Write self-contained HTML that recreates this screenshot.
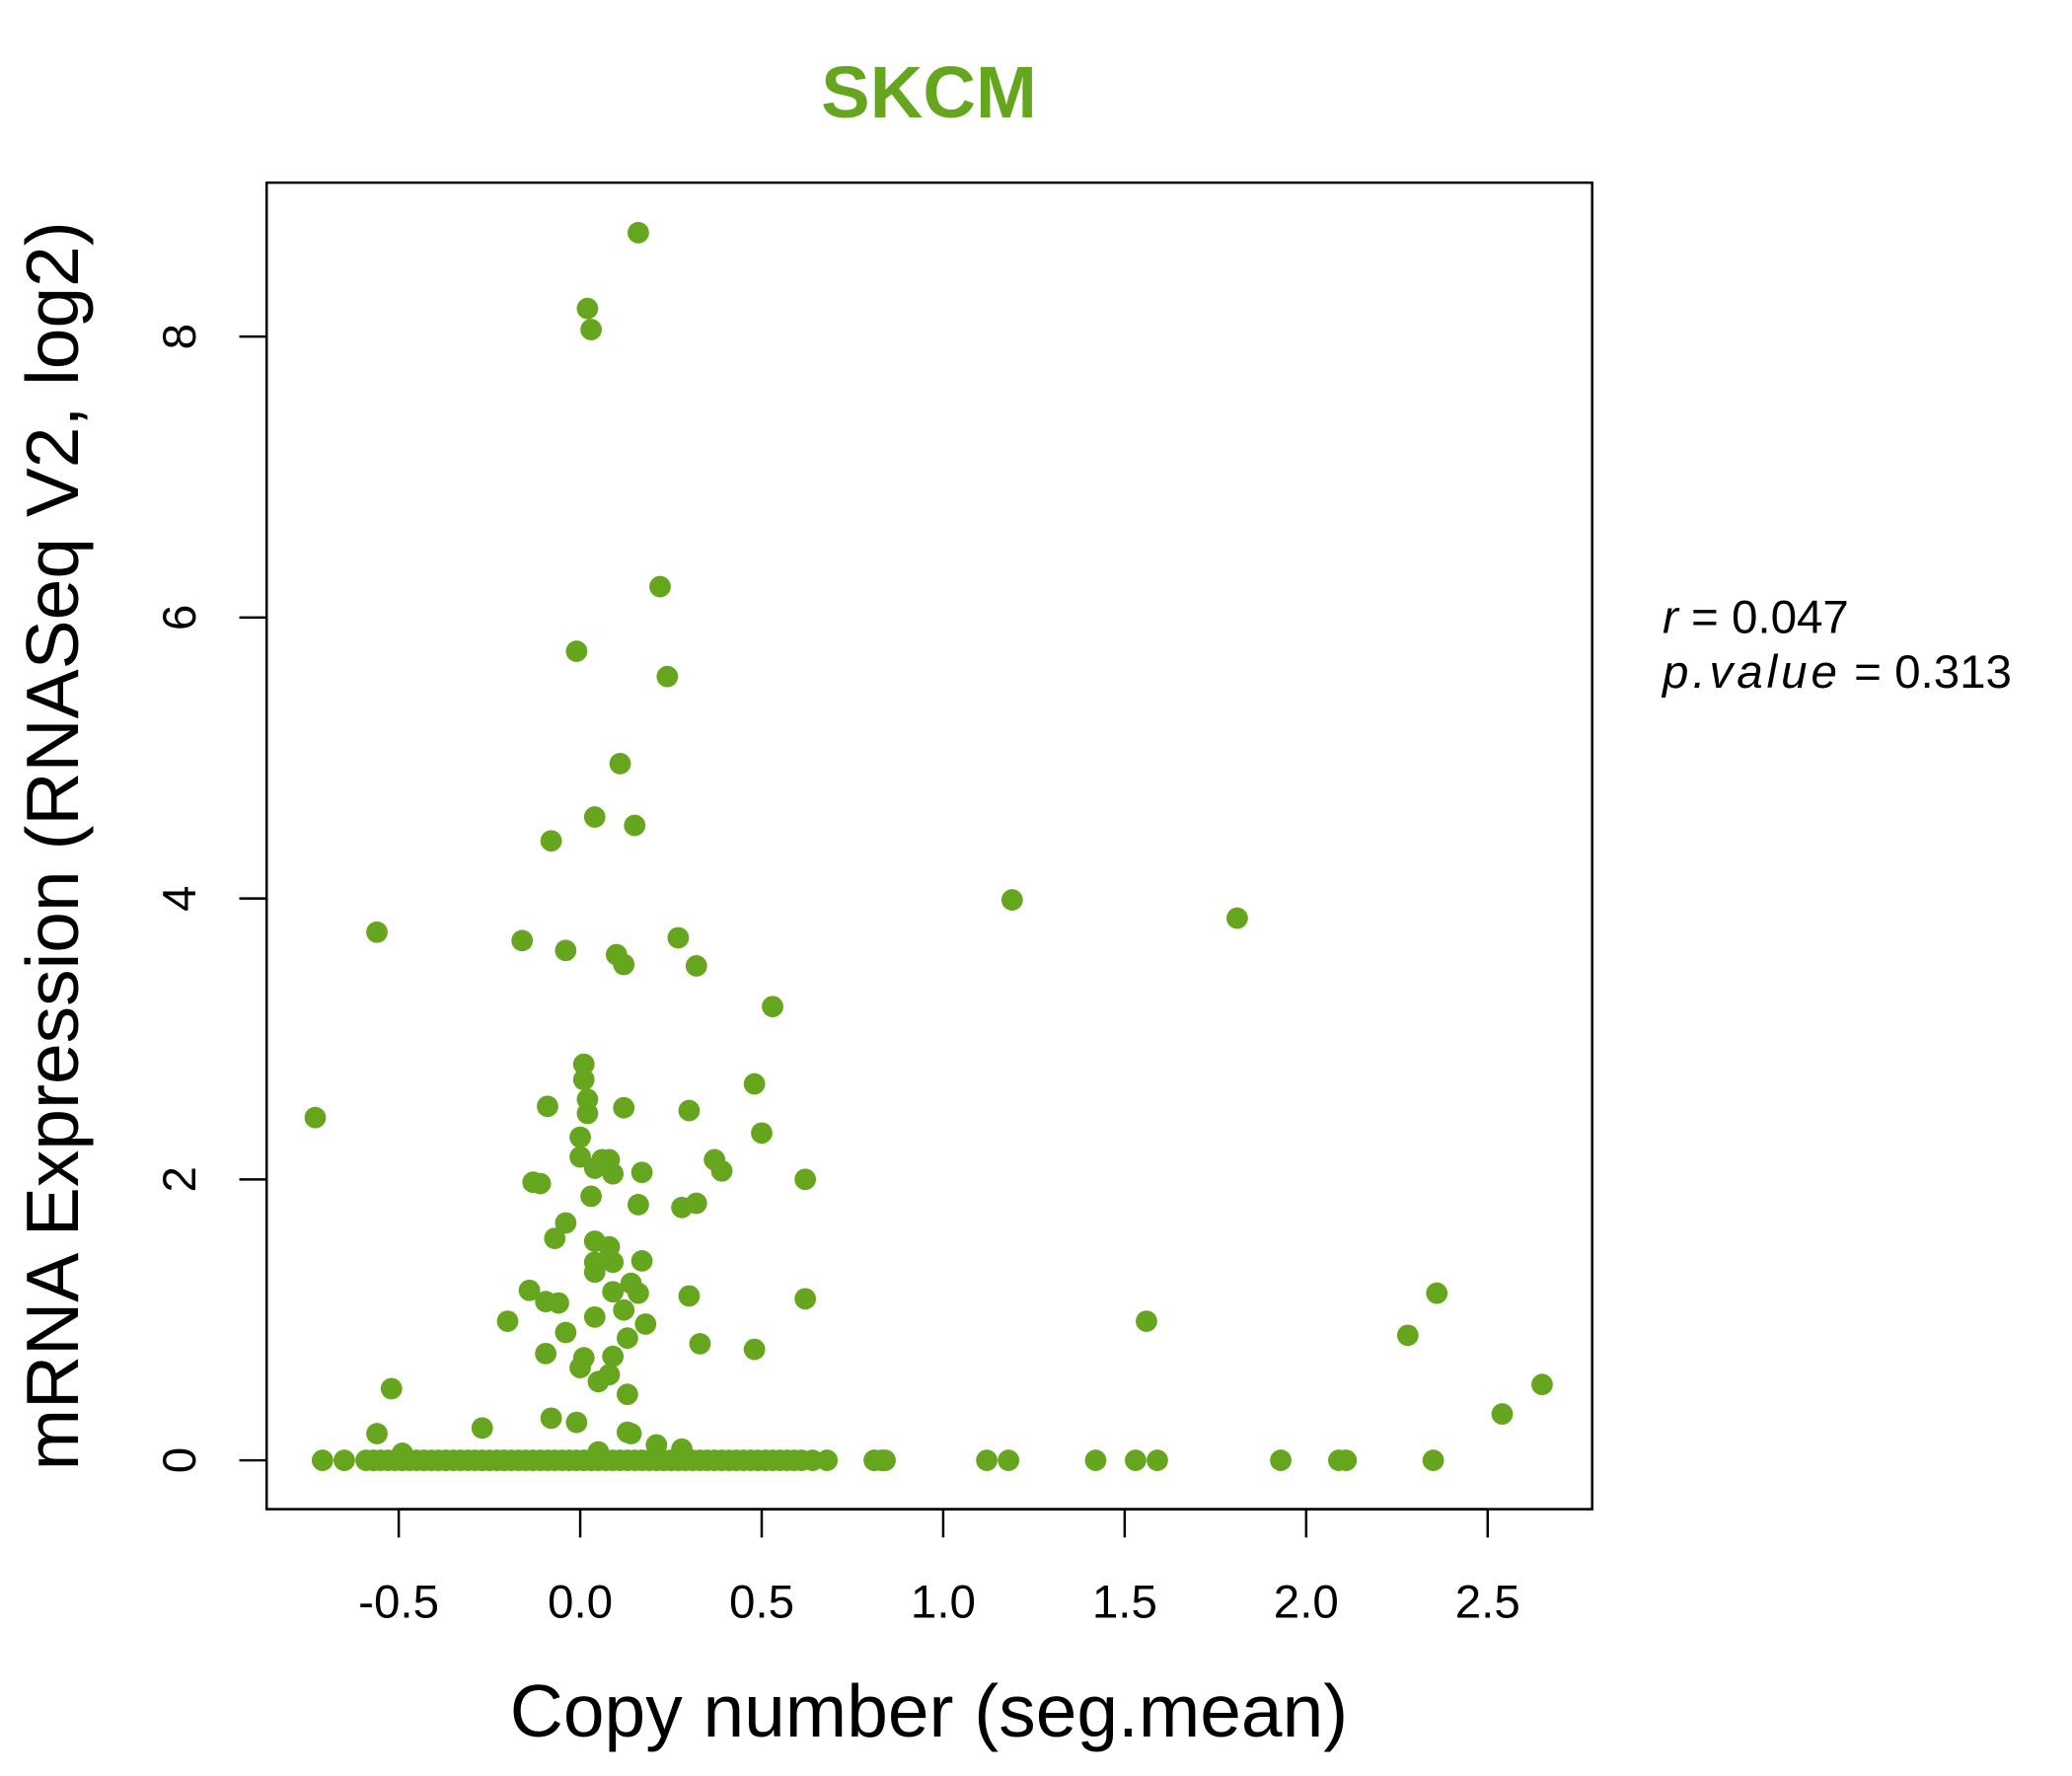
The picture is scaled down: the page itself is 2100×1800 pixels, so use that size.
<!DOCTYPE html>
<html><head><meta charset="utf-8"><style>
html,body{margin:0;padding:0;background:#fff}
svg{display:block;font-family:"Liberation Sans",Arial,sans-serif}
</style></head><body>
<svg id="chart" width="2100" height="1800" viewBox="0 0 2100 1800" xmlns="http://www.w3.org/2000/svg">
<g transform="scale(0.99)">
<text x="951" y="120" text-anchor="middle" font-size="75" font-weight="bold" fill="#66a61e">SKCM</text>
<rect x="273" y="187" width="1357" height="1358" fill="none" stroke="#000" stroke-width="2.5"/>
<g id="xaxis"></g>
<g id="yaxis"></g>
<g id="points"></g>
<text x="951" y="1778" text-anchor="middle" font-size="76" textLength="858" lengthAdjust="spacingAndGlyphs">Copy number (seg.mean)</text>
<text transform="translate(80,866) rotate(-90)" text-anchor="middle" font-size="76" textLength="1279" lengthAdjust="spacingAndGlyphs">mRNA Expression (RNASeq V2, log2)</text>
<text x="1702" y="648" font-size="48"><tspan font-style="italic">r</tspan> = 0.047</text>
<text x="1702" y="704" font-size="48"><tspan font-style="italic" letter-spacing="4">p.value</tspan> = 0.313</text>
</g>
</svg>
<script>
const xTicks = [-0.5, 0.0, 0.5, 1.0, 1.5, 2.0, 2.5];
const xTickLabels = ["-0.5", "0.0", "0.5", "1.0", "1.5", "2.0", "2.5"];
const yTicks = [0, 2, 4, 6, 8];
const yTickLabels = ["0", "2", "4", "6", "8"];
const copyNumber = [0.16,0.02,0.03,0.22,-0.01,0.24,0.11,0.04,0.15,-0.08,1.19,1.81,-0.56,-0.16,-0.04,0.27,0.10,0.12,0.32,0.53,-0.73,0.01,0.01,0.02,0.02,-0.09,0.12,0.30,0.48,0.50,0.0,0.0,0.06,0.08,0.04,0.09,0.17,0.37,0.39,0.62,-0.13,-0.11,0.03,0.16,0.28,0.32,-0.04,-0.07,0.04,0.08,0.04,0.09,0.17,0.04,-0.14,0.14,0.09,0.16,0.30,0.62,-0.095,-0.06,0.12,-0.20,0.04,0.18,1.56,-0.04,0.13,0.33,2.28,2.36,0.48,-0.095,0.01,0.09,0.0,0.08,0.05,0.13,-0.52,2.65,2.54,-0.08,-0.01,-0.27,-0.56,0.13,0.14,0.21,0.28,-0.49,0.05];
const expression = [8.74,8.2,8.05,6.22,5.76,5.58,4.96,4.58,4.52,4.41,3.99,3.86,3.76,3.70,3.63,3.72,3.60,3.53,3.52,3.23,2.44,2.82,2.71,2.57,2.47,2.52,2.51,2.49,2.68,2.33,2.30,2.16,2.14,2.14,2.08,2.04,2.05,2.14,2.06,2.0,1.98,1.97,1.88,1.82,1.80,1.83,1.69,1.58,1.56,1.52,1.41,1.41,1.42,1.34,1.21,1.26,1.20,1.19,1.17,1.15,1.13,1.12,1.07,0.99,1.02,0.97,0.99,0.91,0.87,0.83,0.89,1.19,0.79,0.76,0.73,0.74,0.66,0.61,0.56,0.47,0.51,0.54,0.33,0.30,0.27,0.23,0.19,0.20,0.19,0.11,0.08,0.05,0.06];
const zeroCopyNumber = [-0.71,-0.65,-0.59,-0.57,-0.55,-0.53,-0.51,-0.49,-0.47,-0.45,-0.43,-0.41,-0.39,-0.37,-0.35,-0.33,-0.31,-0.29,-0.27,-0.25,-0.23,-0.21,-0.19,-0.17,-0.15,-0.13,-0.11,-0.09,-0.07,-0.05,-0.03,-0.01,0.01,0.03,0.05,0.07,0.09,0.11,0.13,0.15,0.17,0.19,0.21,0.23,0.25,0.27,0.29,0.31,0.33,0.35,0.37,0.39,0.41,0.43,0.45,0.47,0.49,0.51,0.53,0.55,0.57,0.59,0.61,0.64,0.68,0.81,0.83,0.84,1.12,1.18,1.42,1.53,1.59,1.93,2.09,2.11,2.35];
const zeroExpression = zeroCopyNumber.map(() => 0);

const NS = "http://www.w3.org/2000/svg";
const xScale = v => 594 + v * 371.6;
const yScale = v => 1495 - v * 143.8;
function mk(tag, attrs, parent) {
  const el = document.createElementNS(NS, tag);
  for (const k in attrs) el.setAttribute(k, attrs[k]);
  parent.appendChild(el);
  return el;
}
const xg = document.getElementById('xaxis');
mk('line', {x1: xScale(xTicks[0]), x2: xScale(xTicks[xTicks.length-1]), y1: 1545, y2: 1545, stroke: '#000', 'stroke-width': 2.5}, xg);
xTicks.forEach((t, i) => {
  const tk = mk('line', {x1: xScale(t), x2: xScale(t), y1: 1545, y2: 1574, stroke: '#000', 'stroke-width': 2.5}, xg);
  
  
  const lb = mk('text', {x: xScale(t), y: 1656, 'text-anchor': 'middle', 'font-size': 48}, xg);
  lb.textContent = xTickLabels[i];
  
  
});
const yg = document.getElementById('yaxis');
mk('line', {x1: 273, x2: 273, y1: yScale(yTicks[0]), y2: yScale(yTicks[yTicks.length-1]), stroke: '#000', 'stroke-width': 2.5}, yg);
yTicks.forEach((t, i) => {
  const tk = mk('line', {x1: 245, x2: 273, y1: yScale(t), y2: yScale(t), stroke: '#000', 'stroke-width': 2.5}, yg);
  
  
  const lb = mk('text', {transform: `translate(200,${yScale(t)}) rotate(-90)`, 'text-anchor': 'middle', 'font-size': 48}, yg);
  lb.textContent = yTickLabels[i];
  
  
});
const pg = document.getElementById('points');
function drawPoints(xs, ys) {
  xs.forEach((x, i) => {
    const c = mk('circle', {cx: xScale(x), cy: yScale(ys[i]), r: 11, fill: '#66a61e'}, pg);
    
    
  });
}
drawPoints(zeroCopyNumber, zeroExpression);
drawPoints(copyNumber, expression);
</script>
</body></html>
